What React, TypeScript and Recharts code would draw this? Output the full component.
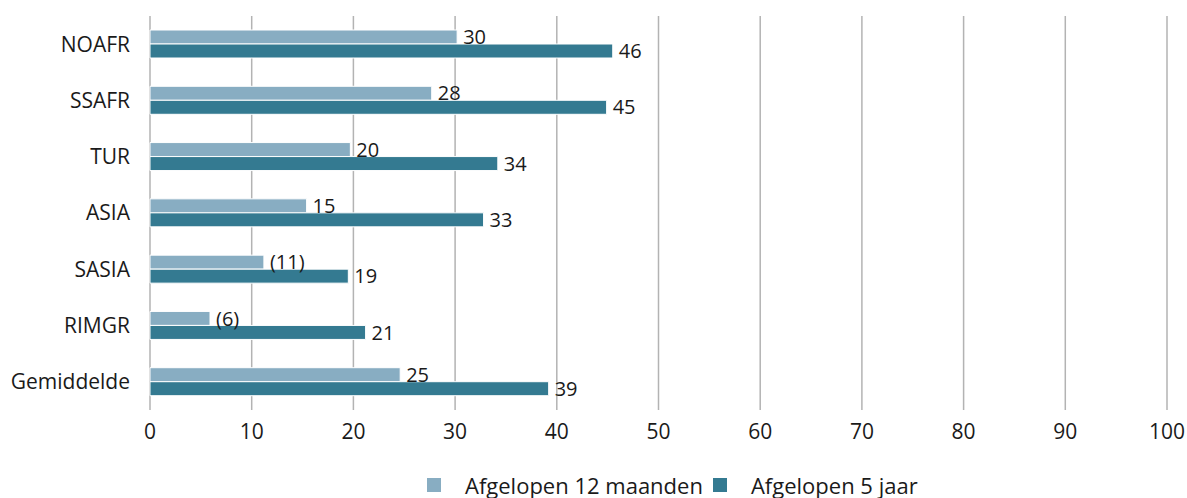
import { BarChart, Bar, XAxis, YAxis, CartesianGrid, Legend, LabelList } from 'recharts'

const categories = ['NOAFR', 'SSAFR', 'TUR', 'ASIA', 'SASIA', 'RIMGR', 'Gemiddelde']
const last12Months = [30.2, 27.7, 19.7, 15.4, 11.2, 5.9, 24.6]
const last5Years = [45.5, 44.9, 34.2, 32.8, 19.5, 21.2, 39.2]
const last12Labels = ['30', '28', '20', '15', '(11)', '(6)', '25']
const last5Labels = ['46', '45', '34', '33', '19', '21', '39']
const xTicks = [0, 10, 20, 30, 40, 50, 60, 70, 80, 90, 100]

const LIGHT = '#88adc2'
const DARK = '#347a91'
const FONT = '"Open Sans", "Noto Sans", sans-serif'

const data = categories.map((name, i) => ({
  name,
  m12: last12Months[i],
  y5: last5Years[i],
  m12Label: last12Labels[i],
  y5Label: last5Labels[i],
}))

function LegendContent() {
  const items = [
    { label: 'Afgelopen 12 maanden', color: LIGHT },
    { label: 'Afgelopen 5 jaar', color: DARK },
  ]
  return (
    <div style={{ display: 'flex', paddingLeft: 427, paddingTop: 12, fontFamily: FONT, fontSize: 22, color: '#1a1a1a', lineHeight: '26px' }}>
      {items.map((it) => (
        <div key={it.label} style={{ display: 'flex', alignItems: 'center', marginRight: 10 }}>
          <span style={{ display: 'inline-block', width: 14, height: 14, background: it.color, marginRight: 24 }} />
          <span>{it.label}</span>
        </div>
      ))}
    </div>
  )
}

export default function App() {
  return (
    <div style={{ position: 'absolute', left: 0, top: 0, width: 1187, height: 498, background: '#fff' }}>
      <BarChart
        width={1187}
        height={498}
        data={data}
        layout="vertical"
        margin={{ top: 16, right: 20, left: 0, bottom: 0 }}
        barSize={14}
        barGap={0}
      >
        <CartesianGrid horizontal={false} stroke="#b3b3b3" strokeWidth={1.5} />
        <XAxis
          type="number"
          domain={[0, 100]}
          ticks={xTicks}
          axisLine={false}
          tickLine={false}
          tickMargin={8}
          height={50}
          tick={{ fontSize: 21, fill: '#1a1a1a', fontFamily: FONT }}
        />
        <YAxis
          type="category"
          dataKey="name"
          width={150}
          axisLine={false}
          tickLine={false}
          tickMargin={14}
          tick={{ fontSize: 21, fill: '#1a1a1a', fontFamily: FONT }}
        />
        <Legend verticalAlign="bottom" height={38} content={<LegendContent />} />
        <Bar dataKey="m12" fill={LIGHT} stroke="#fff" strokeWidth={1} isAnimationActive={false}>
          <LabelList dataKey="m12Label" position="right" offset={6} style={{ fontSize: 20, fill: '#1a1a1a', fontFamily: FONT }} />
        </Bar>
        <Bar dataKey="y5" fill={DARK} stroke="#fff" strokeWidth={1} isAnimationActive={false}>
          <LabelList dataKey="y5Label" position="right" offset={6} style={{ fontSize: 20, fill: '#1a1a1a', fontFamily: FONT }} />
        </Bar>
      </BarChart>
    </div>
  )
}
